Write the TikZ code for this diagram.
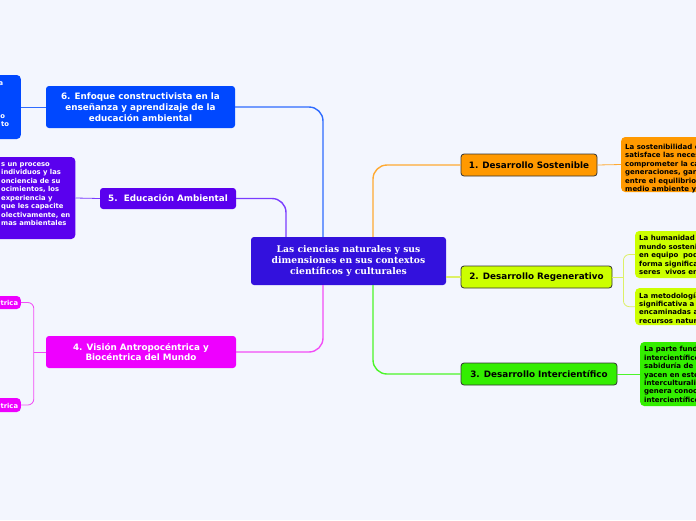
\documentclass[tikz,border=0pt]{standalone}
\usepackage{fontspec}
\setmainfont{DejaVu Sans}
\newfontfamily\centralfont{DejaVu Serif}
\definecolor{bg}{HTML}{F3F6FE}
\definecolor{cCentral}{HTML}{3311DD}
\definecolor{cSix}{HTML}{0048FF}
\definecolor{cFive}{HTML}{5A00EE}
\definecolor{cFour}{HTML}{EE00FF}
\definecolor{cOne}{HTML}{FF9900}
\definecolor{cTwo}{HTML}{CCFF00}
\definecolor{cThree}{HTML}{33EE00}
\definecolor{lSix}{HTML}{2E6BFF}
\definecolor{lFive}{HTML}{7A3CFF}
\definecolor{lFour}{HTML}{F24DF6}
\definecolor{lOne}{HTML}{FFAA33}
\definecolor{lTwo}{HTML}{DDF066}
\definecolor{lThree}{HTML}{4CF52A}
\definecolor{bord}{HTML}{333333}
\tikzset{
  mainbox/.style={rounded corners=3pt, inner sep=0pt, align=center,
    font=\bfseries\fontsize{8.8}{10.8}\selectfont},
  darkbox/.style={mainbox, draw=bord, line width=0.8pt, text=black},
  subbox/.style={rounded corners=4pt, inner sep=0pt},
  subtext/.style={inner sep=0pt, align=left, anchor=north west,
    font=\bfseries\fontsize{7}{8.4}\selectfont,
    execute at begin node={\rule{0pt}{5.3pt}}},
  frag/.style={inner sep=0pt, anchor=base east, text=white,
    font=\bfseries\fontsize{6.8}{8.4}\selectfont},
  conn/.style={line width=1.4pt, rounded corners=14pt},
  link/.style={line width=0.8pt, rounded corners=6pt},
}
\begin{document}
\begin{tikzpicture}[x=1pt,y=-1pt]
\fill[bg] (0,0) rectangle (696,520);
\useasboundingbox (0,0) rectangle (696,520);
\clip (0,0) rectangle (696,520);

% central
\node[mainbox, fill=cCentral, text=white, minimum width=195pt, minimum height=48pt,
  font=\centralfont\bfseries\fontsize{9.2}{11}\selectfont] (c) at (348.5,261)
  {Las ciencias naturales y sus\\dimensiones en sus contextos\\científicos y culturales};

% main topics
\node[mainbox, fill=cSix, text=white, minimum width=189pt, minimum height=42pt] (n6) at (140.5,107)
  {6. Enfoque constructivista en la\\enseñanza y aprendizaje de la\\educación ambiental};
\node[mainbox, fill=cFive, text=white, minimum width=136pt, minimum height=21pt] (n5) at (168,198.5)
  {5.\ \ Educación Ambiental};
\node[mainbox, fill=cFour, text=white, minimum width=190pt, minimum height=32pt] (n4) at (141,352)
  {4. Visión Antropocéntrica y\\Biocéntrica del Mundo};
\node[darkbox, fill=cOne, minimum width=136pt, minimum height=22pt] (n1) at (529,165)
  {1. Desarrollo Sostenible};
\node[darkbox, fill=cTwo, minimum width=151pt, minimum height=22pt] (n2) at (536.5,277)
  {2. Desarrollo Regenerativo};
\node[darkbox, fill=cThree, minimum width=156pt, minimum height=22pt] (n3) at (539,374)
  {3. Desarrollo Intercientífico};

% sub boxes (right)
\node[subbox, fill=cOne, anchor=west, minimum width=110pt, minimum height=55pt] (s1) at (621,164.5) {};
\node[subtext] (s1t) at (625,144)
  {La sostenibilidad e\\satisface las neces\\comprometer la ca\\generaciones, gara\\entre el equilibrio\\medio ambiente y};
\node[subbox, fill=cTwo, anchor=west, minimum width=100pt, minimum height=47pt] (s2a) at (635,254.5) {};
\node[subtext] (s2at) at (639,235.3)
  {La humanidad\\mundo sostenib\\en equipo\ \ pod\\forma significa\\seres\ \ vivos en};
\node[subbox, fill=cTwo, anchor=west, minimum width=100pt, minimum height=37pt] (s2b) at (635,306.7) {};
\node[subtext] (s2bt) at (639,292.3)
  {La metodología\\significativa a\\encaminadas a\\recursos natur};
\node[subbox, fill=cThree, anchor=west, minimum width=100pt, minimum height=64pt] (s3) at (640,374) {};
\node[subtext] (s3t) at (644,346.3)
  {La parte fund\\intercientífico\\sabiduría de l\\yacen en este\\interculturalid\\genera conoc\\intercientífico};

% sub boxes (left)
\node[subbox, fill=cSix, anchor=east, minimum width=60pt, minimum height=64pt] (s6) at (21,107) {};
\node[frag] (s6a) at (3.3,85.2) {a};
\node[frag] (s6b) at (5.3,118.2) {o};
\node[frag] (s6c) at (9.3,126.6) {to};
\node[subbox, fill=cFive, anchor=east, minimum width=110pt, minimum height=82pt] (s5) at (75.5,198) {};
\node[subtext, text=white, font=\bfseries\fontsize{6.8}{8.5}\selectfont] (s5t) at (1,162.3)
  {s un proceso\\individuos y las\\onciencia de su\\ocimientos, los\\experiencia y\\que les capacite\\olectivamente, en\\mas ambientales};
\node[subbox, fill=cFour, anchor=east, minimum width=50pt, minimum height=13pt] (s4a) at (21,302.5) {};
\node[frag] (s4at) at (18.3,305.8) {trica};
\node[subbox, fill=cFour, anchor=east, minimum width=50pt, minimum height=14pt] (s4b) at (21,405) {};
\node[frag] (s4bt) at (18.3,408.2) {trica};

% connectors from the centre
\draw[conn, lSix] ([xshift=-25.5pt]c.north) |- (n6.east);
\draw[conn, lFive] ([xshift=-62.5pt]c.north) |- (n5.east);
\draw[conn, lOne] ([xshift=24.5pt]c.north) |- (n1.west);
\draw[conn, lFour] ([xshift=-25.5pt]c.south) |- (n4.east);
\draw[conn, lThree] ([xshift=24.5pt]c.south) |- (n3.west);
\draw[conn, lTwo] (c.east |- n2.west) -- (n2.west);

% connectors to sub boxes
\draw[link, lOne] (n1.east) -- (s1.west);
\coordinate (j2) at ([xshift=11pt]n2.east);
\draw[link, lTwo] (n2.east) -- (j2);
\draw[link, lTwo] (j2) |- (s2a.west);
\draw[link, lTwo] (j2) |- (s2b.west);
\draw[link, lThree] (n3.east) -- (s3.west);
\coordinate (j4) at ([xshift=-12pt]n4.west);
\draw[link, lFour] (n4.west) -- (j4);
\draw[link, lFour] (j4) |- (s4a.east);
\draw[link, lFour] (j4) |- (s4b.east);
\draw[link, lFive] (n5.west) -- (s5.east);
\draw[link, lSix] (n6.west) -- (s6.east);
\end{tikzpicture}
\end{document}
